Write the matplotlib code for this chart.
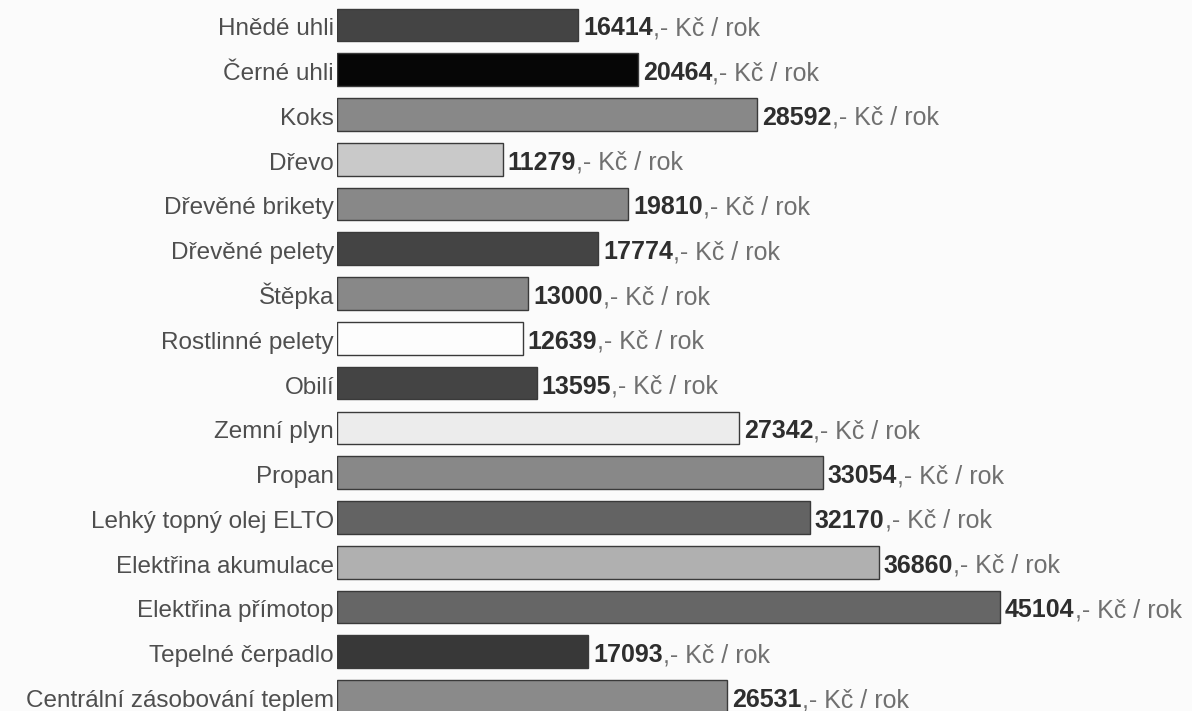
import matplotlib.pyplot as plt

# Data
categories = ['Hnědé uhli', 'Černé uhli', 'Koks', 'Dřevo', 'Dřevěné brikety',
              'Dřevěné pelety', 'Štěpka', 'Rostlinné pelety', 'Obilí', 'Zemní plyn',
              'Propan', 'Lehký topný olej ELTO', 'Elektřina akumulace',
              'Elektřina přímotop', 'Tepelné čerpadlo', 'Centrální zásobování teplem']
costs = [16414, 20464, 28592, 11279, 19810, 17774, 13000, 12639, 13595,
         27342, 33054, 32170, 36860, 45104, 17093, 26531]
bar_colors = ['#444444', '#060606', '#888888', '#c9c9c9', '#888888', '#444444',
              '#888888', '#fdfdfd', '#444444', '#ececec', '#888888', '#636363',
              '#b0b0b0', '#666666', '#383838', '#8a8a8a']
unit = ',- Kč / rok'

plt.rcParams['font.family'] = ['Liberation Sans', 'DejaVu Sans']

fig = plt.figure(figsize=(11.92, 7.11), dpi=100, facecolor='#fbfbfb')
# axes starts where the bars start (x=337px) and fills the rest of the figure
ax = fig.add_axes([337 / 1192, 0, 1 - 337 / 1192, 1])
ax.set_facecolor('#fbfbfb')

y = list(range(len(categories)))
ax.barh(y, costs, height=0.73, color=bar_colors, edgecolor='#3a3a3a', linewidth=1.0)

# 0.0147 px per Kč -> 855 px of axes width
px = 1 / 0.0147
ax.set_xlim(0, 855 * px)
spacing = 44.9
ax.set_ylim((711 - 23) / spacing, -25 / spacing)

# text baseline sits a little below the bar centre
base = 10.5 / spacing
for yi, name, val in zip(y, categories, costs):
    ax.text(-3 * px, yi + base, name, ha='right', va='baseline', fontsize=17.5,
            color='#4e4e4e', clip_on=False)
    t = ax.text(val + 5 * px, yi + base, str(val), ha='left', va='baseline',
                fontsize=18, fontweight='bold', color='#2e2e2e')
    ax.annotate(unit, xy=(1, 0), xycoords=t, ha='left', va='bottom',
                fontsize=18, color='#707070')

ax.axis('off')

plt.savefig('out.png', dpi=100, facecolor=fig.get_facecolor())
plt.close()
